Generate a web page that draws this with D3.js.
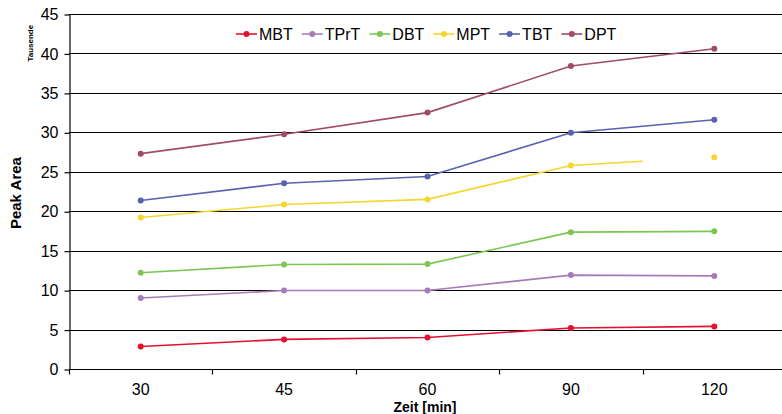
<!DOCTYPE html>
<html lang="de">
  <head>
    <meta charset="UTF-8" />
    <title>Peak Area vs Zeit</title>
    <style>
      body {
        margin: 0;
        background: #fff;
      }
      svg text {
        font-family: "Liberation Sans", Arial, sans-serif;
        fill: #000;
      }
    </style>
  </head>
  <body>
    <svg width="782" height="414"></svg>

    <script src="https://d3js.org/d3.v7.min.js"></script>
    <script>
      const width = 782,
        height = 414;

      const categories = ["30", "45", "60", "90", "120"];
      const yTicks = [0, 5, 10, 15, 20, 25, 30, 35, 40, 45];

      const MBT = [2.85, 3.75, 4.0, 5.2, 5.4];
      const TPrT = [9.0, 9.95, 9.95, 11.9, 11.8];
      const DBT = [12.2, 13.25, 13.3, 17.35, 17.45];
      const MPT = [19.2, 20.85, 21.5, 25.8, 26.85];
      const TBT = [21.35, 23.55, 24.4, 29.95, 31.6];
      const DPT = [27.3, 29.75, 32.5, 38.4, 40.6];

      const seriesNames = ["MBT", "TPrT", "DBT", "MPT", "TBT", "DPT"];
      const seriesValues = [MBT, TPrT, DBT, MPT, TBT, DPT];
      const colors = ["#e4102f", "#a77bb8", "#7cc652", "#f4d630", "#5862ae", "#a04a6c"];

      const margin = { left: 69, right: -4, top: 14, bottom: 45 };

      const svg = d3.select("svg");

      const x = d3
        .scaleBand()
        .domain(categories)
        .range([margin.left, width - margin.right]);

      const y = d3
        .scaleLinear()
        .domain([0, 45])
        .range([height - margin.bottom, margin.top]);

      // horizontal gridlines
      svg
        .append("g")
        .selectAll("line")
        .data(yTicks.slice(1))
        .join("line")
        .attr("x1", margin.left)
        .attr("x2", width)
        .attr("y1", (d) => Math.round(y(d)) + 0.5)
        .attr("y2", (d) => Math.round(y(d)) + 0.5)
        .attr("stroke", "#000")
        .attr("stroke-width", 1.2);

      // y axis
      const yAxis = svg
        .append("g")
        .attr("transform", `translate(${margin.left + 0.5},0.5)`)
        .call(
          d3
            .axisLeft(y)
            .tickValues(yTicks)
            .tickSize(5)
            .tickPadding(6)
            .tickSizeOuter(0)
        );
      yAxis.attr("font-family", null).attr("font-size", 16);
      yAxis.selectAll("path, line").attr("stroke", "#000").attr("stroke-width", 1.2);

      // x axis with ticks at band boundaries
      const xAxis = svg
        .append("g")
        .attr("transform", `translate(0,${Math.round(y(0)) + 0.5})`);
      xAxis
        .append("line")
        .attr("x1", margin.left)
        .attr("x2", width)
        .attr("stroke", "#000")
        .attr("stroke-width", 1.2);
      xAxis
        .selectAll(".bt")
        .data(categories)
        .join("line")
        .attr("class", "bt")
        .attr("x1", (d) => Math.round(x(d)) + 0.5)
        .attr("x2", (d) => Math.round(x(d)) + 0.5)
        .attr("y1", 0)
        .attr("y2", 5)
        .attr("stroke", "#000")
        .attr("stroke-width", 1.2);
      xAxis
        .selectAll("text")
        .data(categories)
        .join("text")
        .attr("x", (d) => x(d) + x.bandwidth() / 2)
        .attr("y", 25.5)
        .attr("text-anchor", "middle")
        .attr("font-size", 16)
        .text((d) => d);

      // axis titles
      svg
        .append("text")
        .attr("x", 425)
        .attr("y", 411.5)
        .attr("text-anchor", "middle")
        .attr("font-weight", "bold")
        .attr("font-size", 14)
        .text("Zeit [min]");

      svg
        .append("text")
        .attr("transform", `translate(21,${y(22.3)}) rotate(-90)`)
        .attr("text-anchor", "middle")
        .attr("font-weight", "bold")
        .attr("font-size", 15)
        .text("Peak Area");

      svg
        .append("text")
        .attr("transform", `translate(33,${y(41.3)}) rotate(-90)`)
        .attr("text-anchor", "middle")
        .attr("font-weight", "bold")
        .attr("font-size", 8)
        .text("Tausende");

      // series
      const line = d3
        .line()
        .x((d, i) => x(categories[i]) + x.bandwidth() / 2)
        .y((d) => y(d));

      seriesValues.forEach((vals, s) => {
        const g = svg.append("g");
        const path = g
          .append("path")
          .attr("d", line(vals))
          .attr("fill", "none")
          .attr("stroke", colors[s])
          .attr("stroke-width", 1.6);

        if (seriesNames[s] === "MPT") {
          // last segment is only drawn half way in the original
          const total = path.node().getTotalLength();
          const last = Math.hypot(
            x.bandwidth(),
            y(vals[vals.length - 1]) - y(vals[vals.length - 2])
          );
          const visible = total - last * 0.5;
          path.attr("stroke-dasharray", `${visible} ${total}`);
        }

        g.selectAll("circle")
          .data(vals)
          .join("circle")
          .attr("cx", (d, i) => x(categories[i]) + x.bandwidth() / 2)
          .attr("cy", (d) => y(d))
          .attr("r", 3)
          .attr("fill", colors[s]);
      });

      // legend
      const legend = svg.append("g");
      let lx = 236;
      const ly = 34;
      seriesNames.forEach((name, s) => {
        const item = legend.append("g").attr("transform", `translate(${lx},${ly})`);
        item
          .append("line")
          .attr("x1", 0)
          .attr("x2", 21)
          .attr("stroke", colors[s])
          .attr("stroke-width", 1.6);
        item.append("circle").attr("cx", 10.5).attr("r", 3).attr("fill", colors[s]);
        const t = item
          .append("text")
          .attr("x", 23)
          .attr("y", 6)
          .attr("font-size", 16)
          .text(name);
        lx += 23 + t.node().getComputedTextLength() + 9;
      });
    </script>
  </body>
</html>
